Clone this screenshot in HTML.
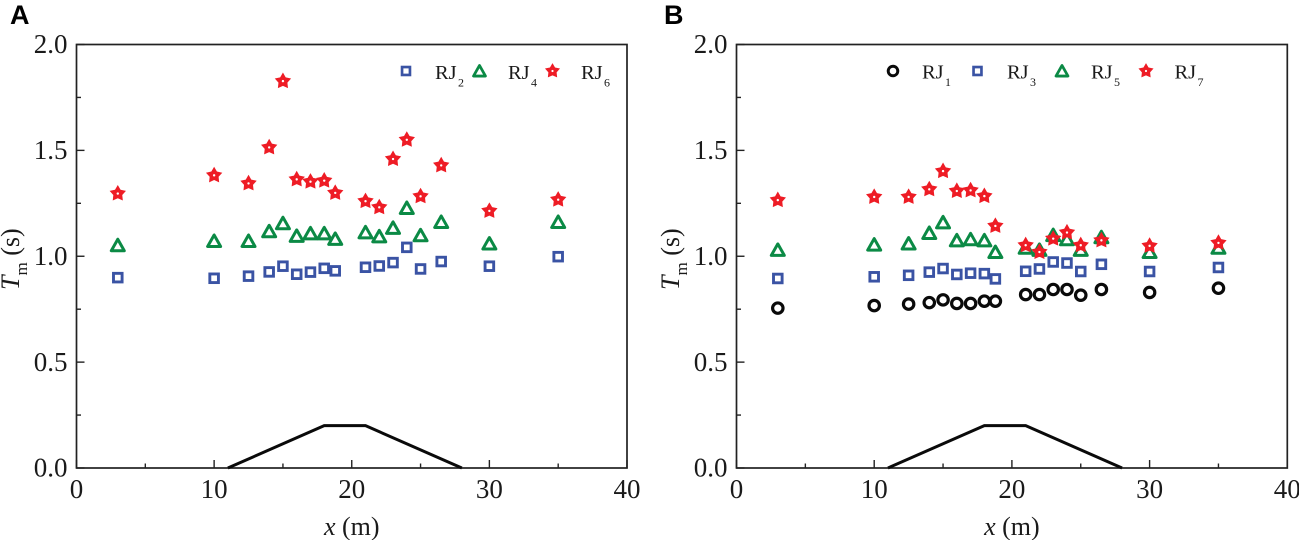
<!DOCTYPE html>
<html>
<head>
<meta charset="utf-8">
<title>Tm along x</title>
<style>
html,body{margin:0;padding:0;background:#fff;width:1299px;height:540px;overflow:hidden}
svg{display:block}
text{font-family:"Liberation Serif",serif;fill:#1a1a1a}
</style>
</head>
<body>
<svg id="chart" width="1299" height="540" viewBox="0 0 1299 540" xmlns="http://www.w3.org/2000/svg"></svg>
<script>
const xPositions = [3,10,12.5,14,15,16,17,18,18.8,21,22,23,24,25,26.5,30,35];
const rj2 = [0.899,0.896,0.906,0.926,0.953,0.915,0.925,0.943,0.931,0.948,0.954,0.97,1.042,0.94,0.975,0.953,0.998];
const rj4 = [1.052,1.072,1.072,1.118,1.156,1.096,1.108,1.108,1.082,1.113,1.094,1.134,1.228,1.099,1.162,1.06,1.162];
const rj6 = [1.296,1.382,1.344,1.514,1.827,1.363,1.352,1.357,1.299,1.26,1.231,1.459,1.55,1.283,1.429,1.214,1.267];
const rj1 = [0.755,0.767,0.774,0.781,0.794,0.777,0.777,0.788,0.788,0.819,0.819,0.843,0.843,0.816,0.843,0.829,0.849];
const rj3 = [0.895,0.903,0.91,0.925,0.942,0.914,0.92,0.918,0.893,0.929,0.94,0.973,0.968,0.928,0.962,0.928,0.947];
const rj5 = [1.03,1.055,1.06,1.11,1.16,1.075,1.08,1.075,1.02,1.04,1.03,1.10,1.08,1.03,1.09,1.02,1.04];
const rj7 = [1.265,1.28,1.28,1.316,1.402,1.308,1.311,1.284,1.143,1.052,1.02,1.083,1.112,1.052,1.075,1.049,1.063];
const bumpX = [11,18,21,28];
const bumpY = [0,0.2,0.2,0];
const xTickLabels = [0,10,20,30,40];
const yTickLabels = ["0.0","0.5","1.0","1.5","2.0"];
const xMinorTicks = [5,15,25,35];
const yMinorTicks = [0.25,0.75,1.25,1.75];

const NS = "http://www.w3.org/2000/svg";
const root = document.getElementById("chart");
const BLUE = "#3a53a4", GREEN = "#0b8a45", RED = "#ee1c25", BLACK = "#0a0a0a", AXIS = "#222222";

function make(tag, attrs, parent) {
  const el = document.createElementNS(NS, tag);
  for (const k in attrs) el.setAttribute(k, attrs[k]);
  (parent || root).appendChild(el);
  return el;
}

function starPoints(cx, cy, R, r) {
  const pts = [];
  for (let i = 0; i < 10; i++) {
    const a = -Math.PI / 2 + i * Math.PI / 5;
    const rad = i % 2 ? r : R;
    pts.push((cx + rad * Math.cos(a)).toFixed(2) + "," + (cy + rad * Math.sin(a)).toFixed(2));
  }
  return pts.join(" ");
}

function drawMarker(kind, cx, cy, parent, s) {
  const k = s || 1;
  if (kind === "square") {
    const h = 4.3 * k;
    return make("rect", {x: cx - h, y: cy - h, width: 2 * h, height: 2 * h, fill: "#fff", stroke: BLUE, "stroke-width": 2.9 * k}, parent);
  }
  if (kind === "circle") {
    return make("circle", {cx: cx, cy: cy, r: 5.2 * k, fill: "none", stroke: BLACK, "stroke-width": 3.2 * k}, parent);
  }
  if (kind === "triangle") {
    const p = (cx - 6.5 * k) + "," + (cy + 5.5 * k) + " " + (cx + 6.5 * k) + "," + (cy + 5.5 * k) + " " + cx + "," + (cy - 6 * k);
    return make("polygon", {points: p, fill: "none", stroke: GREEN, "stroke-width": 3 * k, "stroke-linejoin": "round"}, parent);
  }
  const g = make("g", {}, parent);
  make("polygon", {points: starPoints(cx, cy, 8.6 * k, 4.7 * k), fill: RED}, g);
  make("circle", {cx: cx, cy: cy, r: 1.2 * k, fill: "#fff"}, g);
  return g;
}

function drawPanel(cfg) {
  const panel = make("g", {});
  
  
  const xs = v => cfg.left + (v / 40) * (cfg.right - cfg.left);
  const ys = v => cfg.bottom - (v / 2) * (cfg.bottom - cfg.top);

  const letter = make("text", {x: cfg.letterX, y: 24, "font-size": 27, "font-weight": "bold", style: 'font-family:"Liberation Sans",sans-serif;fill:#000'}, panel);
  letter.textContent = cfg.letter;
  
  

  const frame = make("rect", {x: cfg.left, y: cfg.top, width: cfg.right - cfg.left, height: cfg.bottom - cfg.top, fill: "none", stroke: AXIS, "stroke-width": 1.7}, panel);
  
  

  xTickLabels.forEach(v => {
    make("line", {x1: xs(v), x2: xs(v), y1: cfg.bottom, y2: cfg.bottom - 8, stroke: AXIS, "stroke-width": 1.4}, panel);
    const t = make("text", {x: xs(v), y: 498, "text-anchor": "middle", "font-size": 27}, panel);
    t.textContent = v;
    
    
  });
  xMinorTicks.forEach(v => {
    make("line", {x1: xs(v), x2: xs(v), y1: cfg.bottom, y2: cfg.bottom - 4.5, stroke: AXIS, "stroke-width": 1.4}, panel);
  });
  yTickLabels.forEach(s => {
    const v = parseFloat(s);
    make("line", {x1: cfg.left, x2: cfg.left + 8, y1: ys(v), y2: ys(v), stroke: AXIS, "stroke-width": 1.4}, panel);
    const t = make("text", {x: cfg.left - 9, y: ys(v) + 8.7, "text-anchor": "end", "font-size": 27}, panel);
    t.textContent = s;
    
    
  });
  yMinorTicks.forEach(v => {
    make("line", {x1: cfg.left, x2: cfg.left + 4.5, y1: ys(v), y2: ys(v), stroke: AXIS, "stroke-width": 1.4}, panel);
  });

  const xTitle = make("text", {x: (cfg.left + cfg.right) / 2, y: 535, "text-anchor": "middle", "font-size": 26}, panel);
  
  
  const xi = make("tspan", {"font-style": "italic"}, xTitle);
  xi.textContent = "x";
  const xr = make("tspan", {}, xTitle);
  xr.textContent = " (m)";

  const yTitle = make("text", {transform: "translate(" + cfg.yTitleX + ",290) rotate(-90)", "font-size": 26}, panel);
  
  
  const yi = make("tspan", {"font-style": "italic"}, yTitle);
  yi.textContent = "T";
  const ym = make("tspan", {"font-size": 17, dy: 8}, yTitle);
  ym.textContent = "m";
  const ys2 = make("tspan", {dy: -8}, yTitle);
  ys2.textContent = " (s)";

  const bump = make("polyline", {
    points: bumpX.map((x, i) => xs(x).toFixed(2) + "," + ys(bumpY[i]).toFixed(2)).join(" "),
    fill: "none", stroke: "#0a0a0a", "stroke-width": 3
  }, panel);
  
  

  cfg.series.forEach(s => {
    const g = make("g", {}, panel);
    
    
    s.values.forEach((v, i) => {
      const m = drawMarker(s.kind, xs(xPositions[i]), ys(v), g);
      
      
    });
    const lg = make("g", {}, panel);
    
    
    drawMarker(s.kind, s.legendX, 71, lg, 0.92);
    const t = make("text", {x: s.legendTextX, y: cfg.legendBase, "font-size": 20.5}, lg);
    t.textContent = s.label.slice(0, 2);
    const sub = make("text", {x: s.legendTextX + 23, y: cfg.legendBase + 7.5, "font-size": 12}, lg);
    sub.textContent = s.label.slice(2);
  });
}

drawPanel({
  name: "panel-a", letter: "A", letterX: 10, left: 76.5, right: 627, top: 44.5, bottom: 468, yTitleX: 19, legendBase: 79,
  series: [
    {label: "RJ2", kind: "square", values: rj2, legendX: 406, legendTextX: 435},
    {label: "RJ4", kind: "triangle", values: rj4, legendX: 479.5, legendTextX: 508},
    {label: "RJ6", kind: "star", values: rj6, legendX: 552.5, legendTextX: 581}
  ]
});
drawPanel({
  name: "panel-b", letter: "B", letterX: 664, left: 736.5, right: 1287.3, top: 44.5, bottom: 468, yTitleX: 679, legendBase: 78.5,
  series: [
    {label: "RJ1", kind: "circle", values: rj1, legendX: 893, legendTextX: 922},
    {label: "RJ3", kind: "square", values: rj3, legendX: 977.5, legendTextX: 1007},
    {label: "RJ5", kind: "triangle", values: rj5, legendX: 1062, legendTextX: 1091},
    {label: "RJ7", kind: "star", values: rj7, legendX: 1146, legendTextX: 1174.5}
  ]
});
</script>
</body>
</html>
